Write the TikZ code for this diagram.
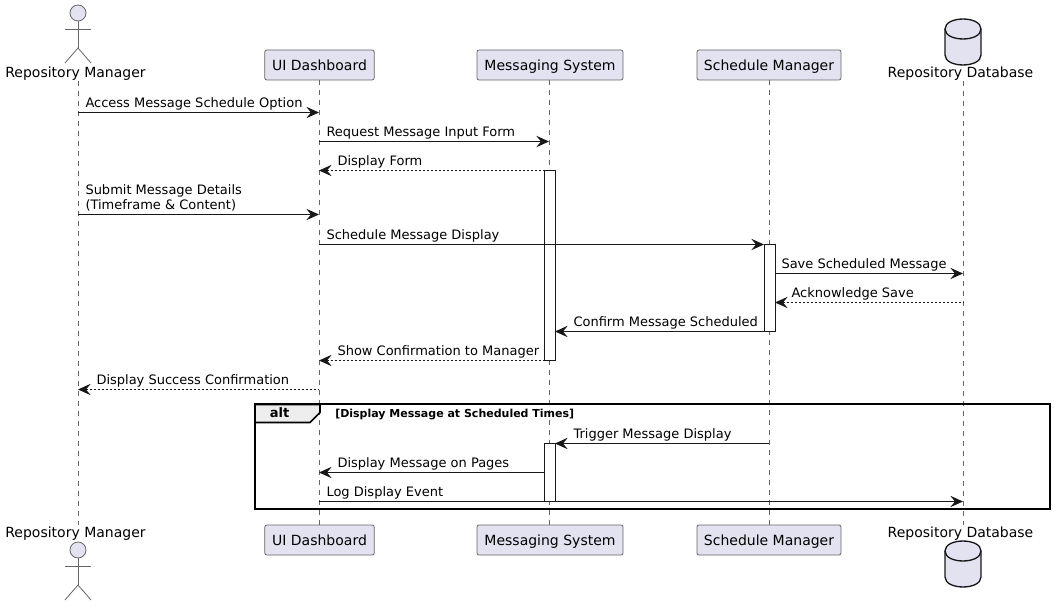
\documentclass[tikz,border=0pt]{standalone}
\usepackage{fontspec}
\setmainfont{DejaVu Sans}
\usetikzlibrary{positioning}
\usetikzlibrary{arrows.meta}
\definecolor{partfill}{HTML}{E2E2F0}
\definecolor{partline}{HTML}{666666}
\definecolor{msgline}{HTML}{181818}
\definecolor{tabfill}{HTML}{EEEEEE}

\begin{document}
\begin{tikzpicture}[
        x=0.75pt,
        y=-0.75pt,
        partbox/.style = {
            draw=partline,
            fill=partfill,
            line width = 0.6pt,
            rounded corners = 1.5pt,
            minimum width = #1,
            minimum height = 22.5pt,
            text height = 10pt,
            text depth = 2pt,
            inner sep = 0pt,
            outer sep = 0pt,
            font=\fontsize{10.5}{12}\selectfont
        },
        partbox/.default = 82pt,
        partname/.style = {
            anchor = base,
            inner sep = 0pt,
            font=\fontsize{10.5}{12}\selectfont
        },
        lifeline/.style = {
            draw=partline,
            line width = 0.6pt,
            dash pattern = on 3.75pt off 3.75pt
        },
        activebar/.style = {
            draw=msgline,
            fill=white,
            line width = 0.75pt,
            minimum width = 8.25pt,
            minimum height = #1,
            inner sep = 0pt,
            outer sep = 0pt
        },
        msgright/.style = {
            draw=msgline,
            line width = 0.75pt,
            -{Stealth[length=9.5pt,width=8.5pt,inset=3.5pt]}
        },
        msgleft/.style = {
            draw=msgline,
            line width = 0.75pt,
            {Stealth[length=9.5pt,width=8.5pt,inset=3.5pt]}-
        },
        reply/.style = {
            dash pattern = on 1.5pt off 1.5pt
        },
        msgtext/.style = {
            at start,
            anchor = base west,
            inner sep = 0pt,
            xshift = #1,
            yshift = 4.1pt,
            font=\fontsize{9.75}{11.5}\selectfont
        },
        msgtext/.default = 5.25pt,
        pics/actor/.style = {
            code = {
                \draw[draw=partline, fill=partfill, line width = 0.6pt] (0,0) circle (8);
                \draw[draw=partline, line width = 0.6pt] (0,8) -- (0,35);
                \draw[draw=partline, line width = 0.6pt] (-13,16) -- (13,16);
                \draw[draw=partline, line width = 0.6pt] (-13,50) -- (0,35) -- (13,50);
            }
        },
        pics/dbcan/.style = {
            code = {
                \draw[draw=msgline, fill=partfill, line width = 1pt] (-18,10) .. controls (-18,-3.3) and (18,-3.3) .. (18,10)
                    -- (18,36) .. controls (18,49.3) and (-18,49.3) .. (-18,36) -- cycle;
                \draw[draw=msgline, line width = 1pt] (-18,10) .. controls (-18,23.3) and (18,23.3) .. (18,10);
            }
        }
            ]
            \useasboundingbox (0,0) rectangle (1054,606);

            % top row
            \pic at (78,13) {actor};
            \node[partname] (mgr) at (75.5,77.7) {Repository Manager};
            \node[partbox=82pt] (ui) at (319.5,65) {UI Dashboard};
            \node[partbox=109.5pt] (msys) at (550,65) {Messaging System};
            \node[partbox=108pt] (sched) at (769,65) {Schedule Manager};
            \pic at (963,19) {dbcan};
            \node[partname] (repo) at (960.5,77.7) {Repository Database};

            % bottom row
            \pic at (78,550) {actor};
            \node[partname] (mgr2) at (75.5,537.7) {Repository Manager};
            \node[partbox=82pt] (ui2) at (319.5,540) {UI Dashboard};
            \node[partbox=109.5pt] (msys2) at (550,540) {Messaging System};
            \node[partbox=108pt] (sched2) at (769,540) {Schedule Manager};
            \pic at (963,541) {dbcan};
            \node[partname] (repo2) at (960.5,537.7) {Repository Database};

            % lifeline ends
            \coordinate (mgrtop) at (78,81);
            \coordinate (mgrend) at (78,525);
            \coordinate (uitop) at (319,80);
            \coordinate (uiend) at (319,525);
            \coordinate (msystop) at (549,80);
            \coordinate (msysend) at (549,525);
            \coordinate (schedtop) at (769,80);
            \coordinate (schedend) at (769,525);
            \coordinate (repotop) at (963,81);
            \coordinate (repoend) at (963,525);

            \draw[lifeline] (mgrtop) -- (mgrend);
            \draw[lifeline] (uitop) -- (uiend);
            \draw[lifeline] (msystop) -- (msysend);
            \draw[lifeline] (schedtop) -- (schedend);
            \draw[lifeline] (repotop) -- (repoend);

            % alt frame
            \node[draw=black, line width = 1.5pt, minimum width = 596.25pt, minimum height = 78.4pt, inner sep = 0pt, outer sep = 0pt] (frame) at (652.5,456.75) {};
            \draw[draw=black, fill=tabfill, line width = 1.2pt] (frame.north west) -- ++(65,0) -- ++(0,8) -- ++(-10,10) -- ++(-55,0) -- cycle;
            \node[inner sep = 0pt, font=\fontsize{9.75}{11.5}\selectfont\bfseries] (alttag) at (279.5,413) {alt};
            \node[inner sep = 0pt, anchor = base west, font=\fontsize{8.25}{10}\selectfont\bfseries] (altcond) at (335,417) {[Display Message at Scheduled Times]};

            % activations
            \node[activebar=142.5pt] (bar1) at (549.5,265.5) {};
            \node[activebar=65.25pt] (bar2) at (769.5,288) {};
            \node[activebar=43.5pt] (bar3) at (549.5,472.5) {};

            % message rows
            \coordinate (y1) at (0,112.5);
            \coordinate (y2) at (0,141.5);
            \coordinate (y3) at (0,170.5);
            \coordinate (y4) at (0,214.5);
            \coordinate (y5) at (0,244.5);
            \coordinate (y6) at (0,273.5);
            \coordinate (y7) at (0,302.5);
            \coordinate (y8) at (0,331.5);
            \coordinate (y9) at (0,360.5);
            \coordinate (y10) at (0,389.5);
            \coordinate (y11) at (0,443.5);
            \coordinate (y12) at (0,472.5);
            \coordinate (y13) at (0,501.5);

            \draw[msgright] (mgrtop |- y1) -- node[msgtext] (m1) {Access Message Schedule Option} (uitop |- y1);
            \draw[msgright] (uitop |- y2) -- node[msgtext] (m2) {Request Message Input Form} (msystop |- y2);
            \draw[msgleft, reply] (uitop |- y3) -- node[msgtext=13.5pt] (m3) {Display Form} (bar1.west |- y3);
            \draw[msgright] (mgrtop |- y4) -- node[msgtext, anchor = south west, align = left, yshift = -2.25pt] (m4) {Submit Message Details\\(Timeframe \& Content)} (uitop |- y4);
            \draw[msgright] (uitop |- y5) -- node[msgtext] (m5) {Schedule Message Display} (bar2.west |- y5);
            \draw[msgright] (bar2.east |- y6) -- node[msgtext=4.5pt] (m6) {Save Scheduled Message} (repotop |- y6);
            \draw[msgleft, reply] (bar2.east |- y7) -- node[msgtext=12pt] (m7) {Acknowledge Save} (repotop |- y7);
            \draw[msgleft] (bar1.east |- y8) -- node[msgtext=13.5pt] (m8) {Confirm Message Scheduled} (bar2.west |- y8);
            \draw[msgleft, reply] (uitop |- y9) -- node[msgtext=13.5pt] (m9) {Show Confirmation to Manager} (bar1.west |- y9);
            \draw[msgleft, reply] (mgrtop |- y10) -- node[msgtext=13.5pt] (m10) {Display Success Confirmation} (uitop |- y10);
            \draw[msgleft] (bar3.east |- y11) -- node[msgtext=13.5pt] (m11) {Trigger Message Display} (schedtop |- y11);
            \draw[msgleft] (uitop |- y12) -- node[msgtext=13.5pt] (m12) {Display Message on Pages} (bar3.west |- y12);
            \draw[msgright] (uitop |- y13) -- node[msgtext] (m13) {Log Display Event} (repotop |- y13);

        \end{tikzpicture}
\end{document}
